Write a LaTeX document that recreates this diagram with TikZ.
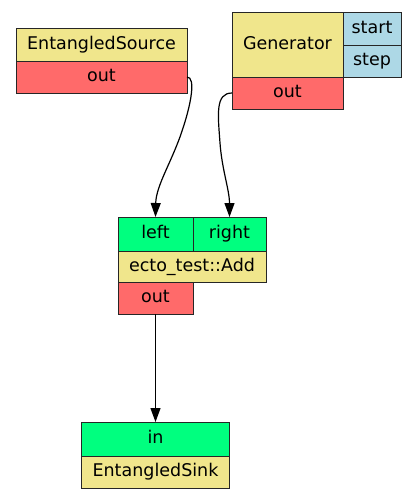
\documentclass[tikz,border=0pt]{standalone}
\usepackage{fontspec}
\setmainfont{DejaVu Sans}
\usetikzlibrary{arrows.meta}
\definecolor{khaki}{HTML}{F0E68C}
\definecolor{portred}{HTML}{FF6A6A}
\definecolor{portgreen}{HTML}{00FF7F}
\definecolor{portblue}{HTML}{ADD8E6}
\tikzset{
  cell/.style={draw=black!85, line width=0.9pt, rectangle, inner sep=0pt, outer sep=0pt,
    font=\fontsize{17.5}{20}\selectfont, text=black, text height=13pt, text depth=4pt},
  cellw/.style 2 args={cell, minimum width=#1pt, minimum height=#2pt},
  edge/.style={line width=1.2pt, -{Triangle[length=14pt,width=10pt]}}
}
\begin{document}
\begin{tikzpicture}[x=1pt,y=-1pt]
\useasboundingbox (0,0) rectangle (416,499);
% EntangledSource
\node[cellw={171}{33}, fill=khaki] (es) at (101.5,44.5) {EntangledSource};
\node[cellw={171}{32}, fill=portred] (esout) at (101.5,77) {out};
% Generator
\node[cellw={111}{65}, fill=khaki] (gen) at (287.5,44.5) {Generator};
\node[cellw={111}{32}, fill=portred] (genout) at (287.5,93) {out};
\node[cellw={58}{33}, fill=portblue] (start) at (372,28.5) {start};
\node[cellw={58}{32}, fill=portblue] (stepcell) at (372,61) {step};
% Add
\node[cellw={75}{34}, fill=portgreen] (addleft) at (155.5,234) {left};
\node[cellw={73}{34}, fill=portgreen] (addright) at (229.5,234) {right};
\node[cellw={148}{31}, fill=khaki] (add) at (192,266.5) {ecto\_test::Add};
\node[cellw={75}{32}, fill=portred] (addout) at (155.5,298) {out};
% Sink
\node[cellw={148}{34}, fill=portgreen] (sinkin) at (155.5,439) {in};
\node[cellw={148}{32}, fill=khaki] (sink) at (155.5,472) {EntangledSink};
% edges
\draw[edge] (esout.east) .. controls (196,77) and (191,104) .. (183,128)
  .. controls (173,160) and (156,185) .. (addleft.north);
\draw[edge] (genout.west) .. controls (215,93) and (218,115) .. (220,143)
  .. controls (222,170) and (229.5,190) .. (addright.north);
\draw[edge] (addout.south) -- (sinkin.north);
\end{tikzpicture}
\end{document}
